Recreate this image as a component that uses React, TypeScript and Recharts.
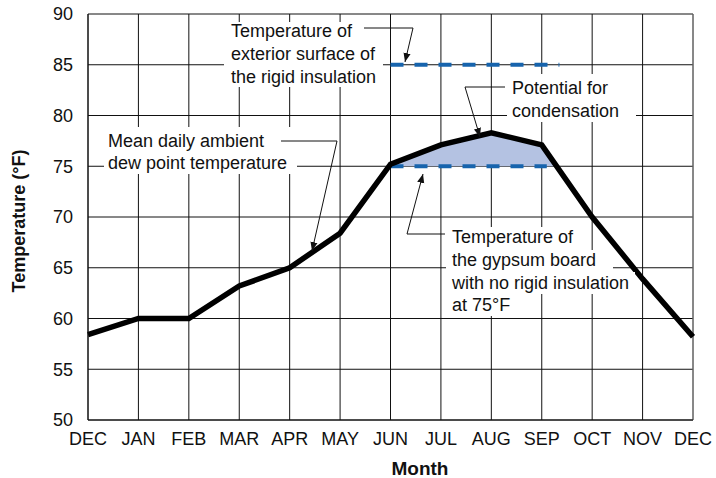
import { ComposedChart, Line, Area, XAxis, YAxis, CartesianGrid, ReferenceLine } from 'recharts';

const MONTHS = ['DEC', 'JAN', 'FEB', 'MAR', 'APR', 'MAY', 'JUN', 'JUL', 'AUG', 'SEP', 'OCT', 'NOV', 'DEC'];
const DEW_POINT = [58.4, 60, 60, 63.2, 65, 68.4, 75.2, 77.1, 78.3, 77.1, 70.0, 63.9, 58.2];
const Y_TICKS = [50, 55, 60, 65, 70, 75, 80, 85, 90];

const EXTERIOR_SURFACE = 85;
const GYPSUM_BOARD = 75;
// dashed temperature lines run from JUN to a little past SEP
const DASH_START = 6;
const EXTERIOR_END = 9.35;
const GYPSUM_END = 9.1;

const W = 716;
const H = 478;
const FONT = '"Liberation Sans", Arial, Helvetica, sans-serif';
const BLUE = '#1764ad';
const FILL = '#b4c2e2';

const dewData = DEW_POINT.map((temp, month) => ({ month, temp }));

// condensation region: between dew point curve and gypsum board temperature
function condensationData() {
  const out: { month: number; range: [number, number] }[] = [];
  for (let i = 0; i < DEW_POINT.length; i++) {
    const v = DEW_POINT[i];
    if (v >= GYPSUM_BOARD) out.push({ month: i, range: [GYPSUM_BOARD, v] });
    const n = DEW_POINT[i + 1];
    if (n !== undefined && (v - GYPSUM_BOARD) * (n - GYPSUM_BOARD) < 0) {
      const t = (v - GYPSUM_BOARD) / (v - n);
      out.push({ month: i + t, range: [GYPSUM_BOARD, GYPSUM_BOARD] });
    }
  }
  return out;
}

const exteriorData = [
  { month: DASH_START, temp: EXTERIOR_SURFACE },
  { month: EXTERIOR_END, temp: EXTERIOR_SURFACE },
];
const gypsumData = [
  { month: DASH_START, temp: GYPSUM_BOARD },
  { month: GYPSUM_END, temp: GYPSUM_BOARD },
];

const tickStyle = { fontFamily: FONT, fontSize: 18, fill: '#111' };

function Annotations() {
  const txt = { fontFamily: FONT, fontSize: 18, fill: '#111' } as const;
  const lead = { stroke: '#111', strokeWidth: 1, fill: 'none' } as const;
  return (
    <svg width={W} height={H} style={{ position: 'absolute', left: 0, top: 0, pointerEvents: 'none' }}>
      <defs>
        <marker id="arr" viewBox="0 0 10 10" refX="10" refY="5" markerWidth="9" markerHeight="9" markerUnits="userSpaceOnUse" orient="auto">
          <path d="M0,1 L10,5 L0,9 Z" fill="#111" />
        </marker>
      </defs>

      {/* exterior surface label */}
      <rect x={224} y={22} width={159} height={65} fill="#fff" />
      <text x={231} y={37} {...txt}>Temperature of</text>
      <text x={231} y={60} {...txt}>exterior surface of</text>
      <text x={231} y={83} {...txt}>the rigid insulation</text>
      <polyline points="364,28 413,28 405,62" {...lead} markerEnd="url(#arr)" />

      {/* dew point label */}
      <rect x={104} y={127} width={193} height={47} fill="#fff" />
      <text x={108} y={147} {...txt}>Mean daily ambient</text>
      <text x={108} y={169} {...txt}>dew point temperature</text>
      <polyline points="281,141 337,141 312,251" {...lead} markerEnd="url(#arr)" />

      {/* condensation label */}
      <rect x={507} y={74} width={129} height={48} fill="#fff" />
      <text x={512} y={94} {...txt}>Potential for</text>
      <text x={512} y={117} {...txt}>condensation</text>
      <polyline points="505,87 465,87 480,137" {...lead} markerEnd="url(#arr)" />

      {/* gypsum board label */}
      <rect x={446} y={227} width={138} height={23} fill="#fff" />
      <rect x={446} y={250} width={167} height={22} fill="#fff" />
      <rect x={446} y={272} width={189} height={22} fill="#fff" />
      <rect x={446} y={294} width={68} height={22} fill="#fff" />
      <text x={452} y={243} {...txt}>Temperature of</text>
      <text x={452} y={266} {...txt}>the gypsum board</text>
      <text x={452} y={289} {...txt}>with no rigid insulation</text>
      <text x={452} y={311} {...txt}>at 75°F</text>
      <polyline points="445,234 407,234 423,174" {...lead} markerEnd="url(#arr)" />

      {/* axis titles */}
      <text x={0} y={0} transform="translate(25,221) rotate(-90)" textAnchor="middle" fontFamily={FONT} fontSize={18} fontWeight="bold" fill="#111">
        Temperature (°F)
      </text>
      <text x={420} y={475} textAnchor="middle" fontFamily={FONT} fontSize={19} fontWeight="bold" fill="#111">
        Month
      </text>
    </svg>
  );
}

export default function App() {
  return (
    <div style={{ position: 'absolute', left: 0, top: 0, width: W, height: H, background: '#fff' }}>
      <ComposedChart width={W} height={H} margin={{ top: 14, right: 23, bottom: 0, left: 0 }}>
        <CartesianGrid stroke="#111" strokeWidth={1} />
        <XAxis
          dataKey="month"
          type="number"
          domain={[0, 12]}
          ticks={MONTHS.map((_, i) => i)}
          interval={0}
          tickFormatter={(i: number) => MONTHS[i]}
          tick={tickStyle}
          tickLine={false}
          tickSize={0}
          tickMargin={12}
          height={58}
          axisLine={{ stroke: '#111' }}
          allowDecimals={false}
        />
        <YAxis
          type="number"
          domain={[50, 90]}
          ticks={Y_TICKS}
          interval={0}
          tick={tickStyle}
          tickLine={false}
          tickSize={0}
          tickMargin={15}
          width={88}
          axisLine={{ stroke: '#111' }}
        />
        <ReferenceLine x={12} stroke="#888" strokeWidth={1} />
        <Area
          data={condensationData()}
          dataKey="range"
          type="linear"
          stroke="none"
          fill={FILL}
          fillOpacity={1}
          isAnimationActive={false}
        />
        <Line
          data={exteriorData}
          dataKey="temp"
          type="linear"
          stroke={BLUE}
          strokeWidth={4}
          strokeDasharray="13 11"
          dot={false}
          isAnimationActive={false}
        />
        <Line
          data={gypsumData}
          dataKey="temp"
          type="linear"
          stroke={BLUE}
          strokeWidth={4}
          strokeDasharray="13 11"
          dot={false}
          isAnimationActive={false}
        />
        <Line
          data={dewData}
          dataKey="temp"
          type="linear"
          stroke="#000"
          strokeWidth={5.5}
          dot={false}
          isAnimationActive={false}
        />
      </ComposedChart>
      <Annotations />
    </div>
  );
}
